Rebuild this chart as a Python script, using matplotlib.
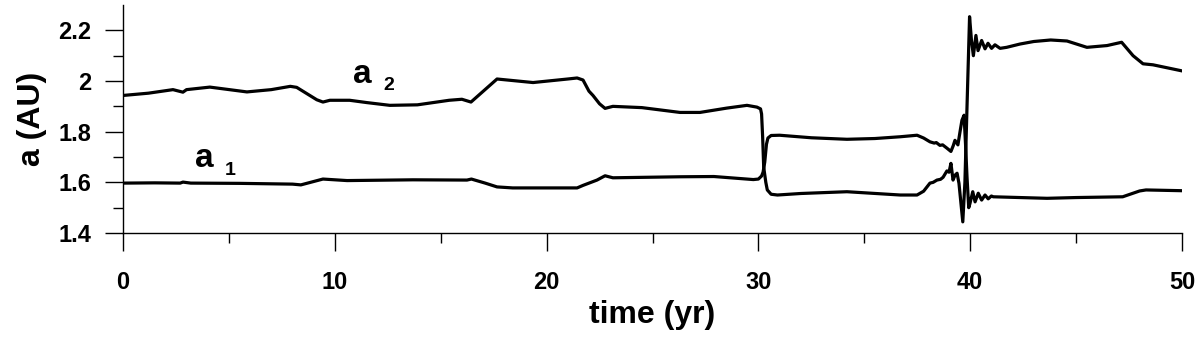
import numpy as np
import matplotlib
matplotlib.use('Agg')
import matplotlib.pyplot as plt

plt.rcParams['font.family'] = ['Liberation Sans', 'DejaVu Sans']
plt.rcParams['font.weight'] = 'bold'

# a1: starts near 1.6, swaps up at ~30 yr, drops back after ~40 yr
a1_t = [0, 1.5, 2.7, 2.83, 3.2, 5.5, 8.0, 8.4, 9.44, 10.58, 13.69, 16.24, 16.45, 17.1,
        17.66, 18.4, 21.44, 21.72, 22.38, 22.76, 23.13, 26.3, 27.9, 29.76, 30.0, 30.15,
        30.22, 30.3, 30.38, 30.45, 30.6, 31.0, 32.5, 34.18, 35.5, 36.7, 37.49, 37.8, 38.1,
        38.3, 38.4, 38.57, 38.7, 38.9, 39.09, 39.2, 39.28, 39.42, 39.52, 39.61, 39.71,
        39.78, 39.85, 39.93, 39.99, 40.12, 40.23, 40.38, 40.54, 40.70, 40.85, 41.0, 41.09,
        42.35, 43.63, 45.0, 47.2, 48.0, 48.3, 50.0]
a1_v = [1.597, 1.598, 1.597, 1.601, 1.597, 1.596, 1.593, 1.590, 1.613, 1.607, 1.610, 1.609,
        1.613, 1.597, 1.582, 1.578, 1.578, 1.588, 1.609, 1.626, 1.618, 1.622, 1.623, 1.611,
        1.613, 1.625, 1.640, 1.680, 1.750, 1.775, 1.785, 1.786, 1.776, 1.770, 1.773, 1.780,
        1.786, 1.775, 1.760, 1.755, 1.757, 1.746, 1.748, 1.735, 1.722, 1.745, 1.766, 1.748,
        1.800, 1.845, 1.865, 1.750, 1.620, 1.500, 1.517, 1.563, 1.523, 1.557, 1.530, 1.550,
        1.535, 1.546, 1.543, 1.540, 1.537, 1.540, 1.543, 1.566, 1.570, 1.567]

# a2: starts near 1.95, swaps down at ~30 yr, jumps up after ~40 yr
a2_t = [0, 1.2, 2.36, 2.83, 3.0, 4.1, 5.85, 7.0, 7.9, 8.2, 9.15, 9.44, 9.77, 10.7, 11.5,
        12.6, 13.9, 15.4, 16.0, 16.43, 17.66, 19.36, 21.0, 21.44, 21.72, 22.0, 22.19, 22.5,
        22.76, 23.13, 24.5, 26.3, 27.24, 28.5, 29.46, 29.93, 30.1, 30.15, 30.2, 30.25, 30.35,
        30.42, 30.6, 30.9, 32.0, 34.18, 36.7, 37.49, 37.8, 38.1, 38.25, 38.43, 38.6, 38.72,
        38.9, 39.0, 39.09, 39.19, 39.28, 39.38, 39.47, 39.65, 39.75, 39.85, 39.97, 40.06,
        40.15, 40.27, 40.37, 40.54, 40.70, 40.84, 41.01, 41.17, 41.41, 41.72, 42.35, 43.0,
        43.8, 44.57, 45.51, 46.46, 47.15, 47.69, 48.16, 48.63, 50.0]
a2_v = [1.943, 1.952, 1.966, 1.956, 1.966, 1.976, 1.957, 1.966, 1.979, 1.975, 1.926, 1.917,
        1.924, 1.924, 1.915, 1.904, 1.906, 1.924, 1.928, 1.917, 2.008, 1.994, 2.008, 2.012,
        2.004, 1.960, 1.943, 1.910, 1.892, 1.900, 1.895, 1.876, 1.876, 1.893, 1.904, 1.897,
        1.890, 1.870, 1.780, 1.660, 1.600, 1.570, 1.553, 1.550, 1.556, 1.563, 1.550, 1.550,
        1.565, 1.597, 1.600, 1.609, 1.612, 1.620, 1.645, 1.640, 1.675, 1.609, 1.628, 1.636,
        1.596, 1.444, 1.600, 1.900, 2.254, 2.160, 2.100, 2.180, 2.120, 2.160, 2.127, 2.149,
        2.129, 2.143, 2.129, 2.133, 2.146, 2.156, 2.162, 2.158, 2.133, 2.140, 2.153, 2.100,
        2.068, 2.064, 2.040]

x_major = [0, 10, 20, 30, 40, 50]
x_minor = [5, 15, 25, 35, 45]
y_major = [1.4, 1.6, 1.8, 2.0, 2.2]
y_labels = ['1.4', '1.6', '1.8', '2', '2.2']
y_minor = [1.5, 1.7, 1.9, 2.1]

fig = plt.figure(figsize=(12, 3.47), dpi=100)
ax = fig.add_axes([0.1025, 0.3285, 0.8825, 0.657])

ax.plot(a1_t, a1_v, color='black', linewidth=2.3, solid_joinstyle='round')
ax.plot(a2_t, a2_v, color='black', linewidth=2.3, solid_joinstyle='round')

ax.set_xlim(0, 50)
ax.set_ylim(1.4, 2.3)
ax.set_xticks(x_major)
ax.set_xticks(x_minor, minor=True)
ax.set_yticks(y_major)
ax.set_yticklabels(y_labels)
ax.set_yticks(y_minor, minor=True)

ax.spines['top'].set_visible(False)
ax.spines['right'].set_visible(False)
ax.spines['left'].set_linewidth(1.0)
ax.spines['bottom'].set_linewidth(1.0)

ax.tick_params(axis='both', which='major', direction='out', length=13, width=1.0, labelsize=17)
ax.tick_params(axis='both', which='minor', direction='out', length=7, width=1.0)
ax.tick_params(axis='x', which='major', pad=14)
ax.tick_params(axis='y', which='major', pad=10)

ax.set_xlabel('time (yr)', fontsize=23, fontweight='bold', labelpad=5)
ax.set_ylabel('a (AU)', fontsize=23, fontweight='bold', labelpad=8)

ax.text(3.4, 1.66, 'a', fontsize=24, fontweight='bold', ha='left', va='baseline')
ax.text(4.8, 1.628, '1', fontsize=14, fontweight='bold', ha='left', va='baseline')
ax.text(10.86, 1.994, 'a', fontsize=24, fontweight='bold', ha='left', va='baseline')
ax.text(12.28, 1.963, '2', fontsize=14, fontweight='bold', ha='left', va='baseline')

fig.savefig('out.png', dpi=100)
